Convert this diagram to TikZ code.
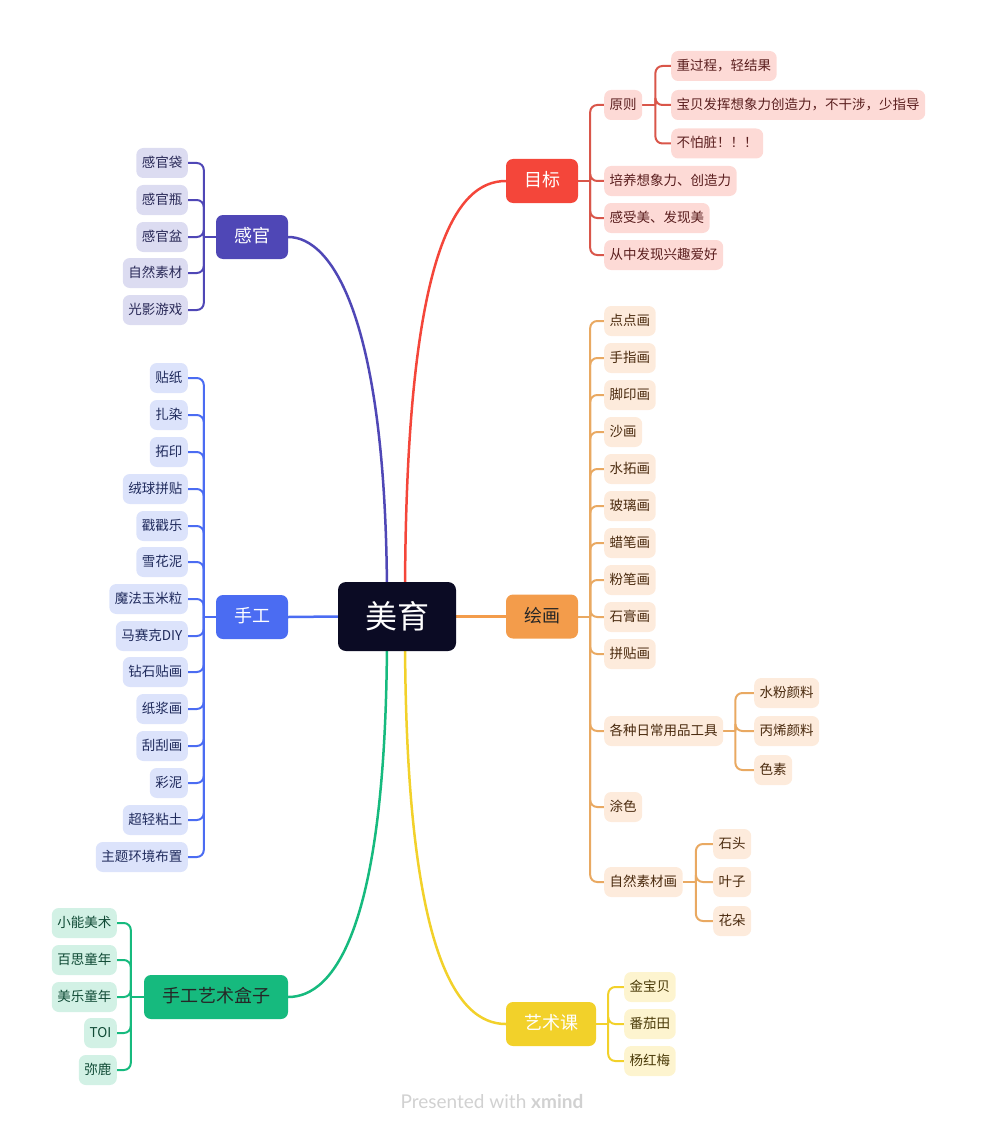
\documentclass[tikz,border=0pt]{standalone}
\usepackage{fontspec}
\setmainfont{Noto Sans CJK SC}
\newfontfamily\footfont{Lato}
\usetikzlibrary{calc,backgrounds}
\definecolor{cmain}{HTML}{0B0B24}
\definecolor{cpur}{HTML}{4F47B6}
\definecolor{cpurL}{HTML}{DCDCF1}
\definecolor{cpurT}{HTML}{2A2A58}
\definecolor{cblu}{HTML}{4B6CF2}
\definecolor{cbluL}{HTML}{DCE3FB}
\definecolor{cbluT}{HTML}{1F2A5C}
\definecolor{cgrn}{HTML}{16BA7E}
\definecolor{cgrnL}{HTML}{D2F1E5}
\definecolor{cgrnT}{HTML}{0F4A35}
\definecolor{cred}{HTML}{F4463A}
\definecolor{credLn}{HTML}{D9564A}
\definecolor{credL}{HTML}{FDDAD6}
\definecolor{credT}{HTML}{5A1E1E}
\definecolor{corg}{HTML}{F39C4B}
\definecolor{corgLn}{HTML}{E9A962}
\definecolor{corgL}{HTML}{FDEBDC}
\definecolor{corgT}{HTML}{4A2A0E}
\definecolor{cyel}{HTML}{F2D12A}
\definecolor{cyelL}{HTML}{FDF4CF}
\definecolor{cyelT}{HTML}{4A3A08}
\tikzset{
  leaf/.style={rounded corners=7pt, inner xsep=5.5pt, inner ysep=0pt, minimum height=30pt,
    font=\fontsize{13.5}{15}\selectfont, text height=11pt, text depth=2pt},
  mainnode/.style={rounded corners=7pt, inner xsep=8pt, inner ysep=0pt, minimum height=44pt,
    minimum width=72pt, font=\fontsize{18}{21}\selectfont, text height=14pt, text depth=3pt},
  pl/.style={leaf, fill=cpurL, text=cpurT, anchor=east},
  bl/.style={leaf, fill=cbluL, text=cbluT, anchor=east},
  gl/.style={leaf, fill=cgrnL, text=cgrnT, anchor=east},
  rl/.style={leaf, fill=credL, text=credT, anchor=west},
  ol/.style={leaf, fill=corgL, text=corgT, anchor=west},
  yl/.style={leaf, fill=cyelL, text=cyelT, anchor=west},
  link/.style={line width=2pt, rounded corners=7pt},
  bigl/.style={line width=2.5pt}
}
\begin{document}
\begin{tikzpicture}[x=1pt,y=-1pt]
\useasboundingbox (0,0) rectangle (984,1134);
% central
\node[rounded corners=8pt, fill=cmain, text=white, minimum width=118pt, minimum height=69pt,
  font=\fontsize{32}{36}\selectfont] (root) at (397,616.5) {美育};
% main branches
\node[mainnode, fill=cpur, text=white] (gg) at (252,237) {感官};
\node[mainnode, fill=cblu, text=white] (sg) at (252,617) {手工};
\node[mainnode, fill=cgrn, text=black!85, minimum width=144pt] (hz) at (216,997) {手工艺术盒子};
\node[mainnode, fill=cred, text=white] (mb) at (542,181) {目标};
\node[mainnode, fill=corg, text=black!85] (hh) at (542,616.5) {绘画};
\node[mainnode, fill=cyel, text=white, minimum width=90pt] (ys) at (551,1024) {艺术课};
% 感官 leaves
\node[pl] (g1) at (188,163) {感官袋};
\node[pl] (g2) at (188,200) {感官瓶};
\node[pl] (g3) at (188,237) {感官盆};
\node[pl] (g4) at (188,273) {自然素材};
\node[pl] (g5) at (188,310) {光影游戏};
% 手工 leaves
\node[bl] (s1) at (188,378) {贴纸};
\node[bl] (s2) at (188,415) {扎染};
\node[bl] (s3) at (188,452) {拓印};
\node[bl] (s4) at (188,489) {绒球拼贴};
\node[bl] (s5) at (188,526) {戳戳乐};
\node[bl] (s6) at (188,562) {雪花泥};
\node[bl] (s7) at (188,599) {魔法玉米粒};
\node[bl] (s8) at (188,636) {马赛克DIY};
\node[bl] (s9) at (188,672) {钻石贴画};
\node[bl] (s10) at (188,709) {纸浆画};
\node[bl] (s11) at (188,746) {刮刮画};
\node[bl] (s12) at (188,783) {彩泥};
\node[bl] (s13) at (188,820) {超轻粘土};
\node[bl] (s14) at (188,857) {主题环境布置};
% 手工艺术盒子 leaves
\node[gl] (z1) at (117,923) {小能美术};
\node[gl] (z2) at (117,960) {百思童年};
\node[gl] (z3) at (117,997) {美乐童年};
\node[gl] (z4) at (117,1033) {TOI};
\node[gl] (z5) at (117,1070) {弥鹿};
% 目标 leaves
\node[rl] (m1) at (604,105) {原则};
\node[rl] (m11) at (671,66) {重过程，轻结果};
\node[rl] (m12) at (671,105) {宝贝发挥想象力创造力，不干涉，少指导};
\node[rl] (m13) at (671,143.5) {不怕脏！！！};
\node[rl] (m2) at (604,181) {培养想象力、创造力};
\node[rl] (m3) at (604,218) {感受美、发现美};
\node[rl] (m4) at (604,255) {从中发现兴趣爱好};
% 绘画 leaves
\node[ol] (h1) at (604,321) {点点画};
\node[ol] (h2) at (604,358) {手指画};
\node[ol] (h3) at (604,395) {脚印画};
\node[ol] (h4) at (604,432) {沙画};
\node[ol] (h5) at (604,469) {水拓画};
\node[ol] (h6) at (604,506) {玻璃画};
\node[ol] (h7) at (604,543) {蜡笔画};
\node[ol] (h8) at (604,580) {粉笔画};
\node[ol] (h9) at (604,617) {石膏画};
\node[ol] (h10) at (604,654) {拼贴画};
\node[ol] (h11) at (604,731) {各种日常用品工具};
\node[ol] (h111) at (754,693) {水粉颜料};
\node[ol] (h112) at (754,731) {丙烯颜料};
\node[ol] (h113) at (754,770) {色素};
\node[ol] (h12) at (604,807) {涂色};
\node[ol] (h13) at (604,882) {自然素材画};
\node[ol] (h131) at (713,844) {石头};
\node[ol] (h132) at (713,882) {叶子};
\node[ol] (h133) at (713,921) {花朵};
% 艺术课 leaves
\node[yl] (y1) at (624,987) {金宝贝};
\node[yl] (y2) at (624,1024) {番茄田};
\node[yl] (y3) at (624,1061) {杨红梅};
% footer
\node[text=black!18, font=\footfont\fontsize{19}{22}\selectfont] (ft) at (492,1102) {Presented with \textbf{xmind}};
% connectors
\begin{pgfonlayer}{background}
\draw[bigl, cpur] ($(root.north)+(-10,20)$) .. controls ($(root.north)+(-10,-260)$) and ($(gg.east)+(45,0)$) .. (gg.east);
\draw[bigl, cred] ($(root.north)+(8,20)$) .. controls ($(root.north)+(8,-330)$) and ($(mb.west)+(-50,0)$) .. (mb.west);
\draw[bigl, cgrn] ($(root.south)+(-10,-20)$) .. controls ($(root.south)+(-10,280)$) and ($(hz.east)+(45,0)$) .. (hz.east);
\draw[bigl, cyel] ($(root.south)+(8,-20)$) .. controls ($(root.south)+(8,300)$) and ($(ys.west)+(-50,0)$) .. (ys.west);
\draw[bigl, cblu] (root.west) -- (sg.east);
\draw[bigl, corg] (root.east) -- (hh.west);
% 感官
\coordinate (gj) at ($(gg.west)+(-12,0)$);
\draw[link, cpur] (gg.west) -- (gj);
\foreach \n in {g1,g2,g3,g4,g5} \draw[link, cpur] (gj) |- (\n.east);
% 手工
\coordinate (sj) at ($(sg.west)+(-12,0)$);
\draw[link, cblu] (sg.west) -- (sj);
\foreach \n in {s1,s2,s3,s4,s5,s6,s7,s8,s9,s10,s11,s12,s13,s14} \draw[link, cblu] (sj) |- (\n.east);
% 盒子
\coordinate (zj) at ($(hz.west)+(-13,0)$);
\draw[link, cgrn] (hz.west) -- (zj);
\foreach \n in {z1,z2,z3,z4,z5} \draw[link, cgrn] (zj) |- (\n.east);
% 目标
\coordinate (mj) at ($(mb.east)+(12,0)$);
\draw[link, credLn] (mb.east) -- (mj);
\foreach \n in {m1,m2,m3,m4} \draw[link, credLn] (mj) |- (\n.west);
\coordinate (m1j) at ($(m1.east)+(13,0)$);
\draw[link, credLn] (m1.east) -- (m1j);
\foreach \n in {m11,m12,m13} \draw[link, credLn] (m1j) |- (\n.west);
% 绘画
\coordinate (hj) at ($(hh.east)+(12,0)$);
\draw[link, corgLn] (hh.east) -- (hj);
\foreach \n in {h1,h2,h3,h4,h5,h6,h7,h8,h9,h10,h11,h12,h13} \draw[link, corgLn] (hj) |- (\n.west);
\coordinate (h11j) at ($(h11.east)+(12,0)$);
\draw[link, corgLn] (h11.east) -- (h11j);
\foreach \n in {h111,h112,h113} \draw[link, corgLn] (h11j) |- (\n.west);
\coordinate (h13j) at ($(h13.east)+(13,0)$);
\draw[link, corgLn] (h13.east) -- (h13j);
\foreach \n in {h131,h132,h133} \draw[link, corgLn] (h13j) |- (\n.west);
% 艺术课
\coordinate (yj) at ($(ys.east)+(12,0)$);
\draw[link, cyel] (ys.east) -- (yj);
\foreach \n in {y1,y2,y3} \draw[link, cyel] (yj) |- (\n.west);
\end{pgfonlayer}
\end{tikzpicture}
\end{document}
